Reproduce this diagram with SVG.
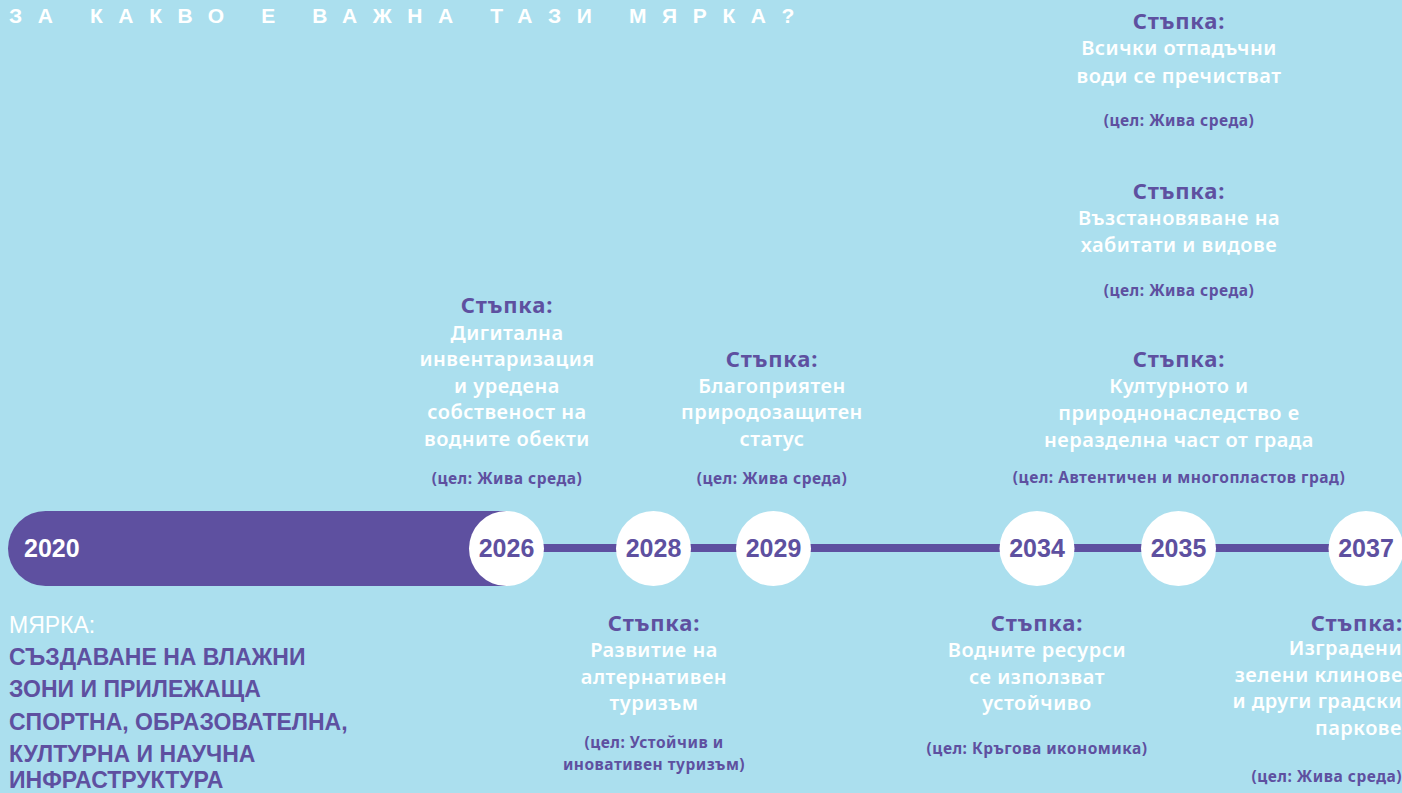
<svg xmlns="http://www.w3.org/2000/svg" width="1402" height="793" viewBox="0 0 1402 793">
<style>
.ttl{font-family:'Liberation Sans',Arial,sans-serif;font-weight:700;font-size:21px;fill:#fff;letter-spacing:15.6px}
.yr{font-family:'Liberation Sans',Arial,sans-serif;font-weight:700;font-size:25px;fill:#5E50A0;text-anchor:middle}
.st{font-family:'Noto Sans','Liberation Sans',sans-serif;font-weight:700;font-size:22px;letter-spacing:0.8px;fill:#5E50A0}
.bd{font-family:'Noto Sans','Liberation Sans',sans-serif;font-weight:600;font-size:20px;letter-spacing:0.5px;fill:#fff}
.gl{font-family:'Noto Sans','Liberation Sans',sans-serif;font-weight:700;font-size:15.5px;letter-spacing:0.5px;fill:#5E50A0}
.c{text-anchor:middle}
.e{text-anchor:end}
.ms{font-family:'Liberation Sans',Arial,sans-serif;font-size:23px;fill:#fff}
.mt{font-family:'Liberation Sans',Arial,sans-serif;font-weight:700;font-size:23px;fill:#5E50A0}
.dot{fill:#fff}
</style>
<rect width="1402" height="793" fill="#ABDFEE"/>
<text class="ttl" x="9" y="23">ЗА КАКВО Е ВАЖНА ТАЗИ МЯРКА?</text>

<g id="bar2020">
<path d="M45.5,511 H507 V586 H45.5 A37.5,37.5 0 0 1 45.5,511 Z" fill="#5E50A0"/>
<text x="24" y="557" style="font-family:'Liberation Sans',Arial,sans-serif;font-weight:700;font-size:25px;fill:#fff">2020</text>
</g>

<g id="connectors">
<line x1="506" y1="548" x2="1380" y2="548" stroke="#5E50A0" stroke-width="8"/>
</g>

<g id="n2026">
<circle class="dot" cx="506.5" cy="548.5" r="37.5"/>
<text class="yr" x="506.5" y="557">2026</text>
<g class="c">
<text class="st" x="507" y="313">Стъпка:</text>
<text class="bd" x="507" y="340">Дигитална</text>
<text class="bd" x="507" y="366">инвентаризация</text>
<text class="bd" x="507" y="393">и уредена</text>
<text class="bd" x="507" y="419">собственост на</text>
<text class="bd" x="507" y="446">водните обекти</text>
<text class="gl" x="507" y="484">(цел: Жива среда)</text>
</g>
</g>

<g id="n2028">
<circle class="dot" cx="653.5" cy="548.5" r="37.5"/>
<text class="yr" x="653.5" y="557">2028</text>
<g class="c">
<text class="st" x="654" y="631">Стъпка:</text>
<text class="bd" x="654" y="657">Развитие на</text>
<text class="bd" x="654" y="684">алтернативен</text>
<text class="bd" x="654" y="710">туризъм</text>
<text class="gl" x="654" y="748">(цел: Устойчив и</text>
<text class="gl" x="654" y="770">иновативен туризъм)</text>
</g>
</g>

<g id="n2029">
<circle class="dot" cx="773.5" cy="548.5" r="37.5"/>
<text class="yr" x="773.5" y="557">2029</text>
<g class="c">
<text class="st" x="772" y="367">Стъпка:</text>
<text class="bd" x="772" y="393">Благоприятен</text>
<text class="bd" x="772" y="419">природозащитен</text>
<text class="bd" x="772" y="446">статус</text>
<text class="gl" x="772" y="484">(цел: Жива среда)</text>
</g>
</g>

<g id="n2034">
<circle class="dot" cx="1037" cy="548.5" r="37.5"/>
<text class="yr" x="1037" y="557">2034</text>
<g class="c">
<text class="st" x="1037" y="631">Стъпка:</text>
<text class="bd" x="1037" y="657">Водните ресурси</text>
<text class="bd" x="1037" y="684">се използват</text>
<text class="bd" x="1037" y="710">устойчиво</text>
<text class="gl" x="1037" y="754">(цел: Кръгова икономика)</text>
</g>
</g>

<g id="n2035">
<circle class="dot" cx="1178.5" cy="548.5" r="37.5"/>
<text class="yr" x="1178.5" y="557">2035</text>
<g class="c">
<text class="st" x="1179" y="29">Стъпка:</text>
<text class="bd" x="1179" y="55">Всички отпадъчни</text>
<text class="bd" x="1179" y="83">води се пречистват</text>
<text class="gl" x="1179" y="126">(цел: Жива среда)</text>
<text class="st" x="1179" y="199">Стъпка:</text>
<text class="bd" x="1179" y="225">Възстановяване на</text>
<text class="bd" x="1179" y="252">хабитати и видове</text>
<text class="gl" x="1179" y="296">(цел: Жива среда)</text>
<text class="st" x="1179" y="367">Стъпка:</text>
<text class="bd" x="1179" y="393">Културното и</text>
<text class="bd" x="1179" y="420">природнонаследство е</text>
<text class="bd" x="1179" y="447">неразделна част от града</text>
<text class="gl" x="1179" y="483">(цел: Автентичен и многопластов град)</text>
</g>
</g>

<g id="n2037">
<circle class="dot" cx="1366" cy="548.5" r="37.5"/>
<text class="yr" x="1366" y="557">2037</text>
<g class="e">
<text class="st" x="1403" y="631">Стъпка:</text>
<text class="bd" x="1402" y="655">Изградени</text>
<text class="bd" x="1403" y="682">зелени клинове</text>
<text class="bd" x="1402" y="708">и други градски</text>
<text class="bd" x="1402" y="735">паркове</text>
<text class="gl" x="1402" y="782">(цел: Жива среда)</text>
</g>
</g>

<g id="measure">
<text class="ms" x="9" y="633">МЯРКА:</text>
<text class="mt" x="9" y="665">СЪЗДАВАНЕ НА ВЛАЖНИ</text>
<text class="mt" x="9" y="697">ЗОНИ И ПРИЛЕЖАЩА</text>
<text class="mt" x="9" y="730">СПОРТНА, ОБРАЗОВАТЕЛНА,</text>
<text class="mt" x="9" y="762">КУЛТУРНА И НАУЧНА</text>
<text class="mt" x="9" y="788">ИНФРАСТРУКТУРА</text>
</g>
</svg>
